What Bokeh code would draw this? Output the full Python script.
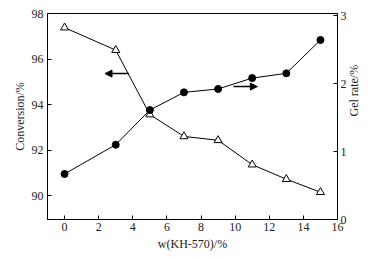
import math
from bokeh.plotting import figure
from bokeh.models import Range1d, LinearAxis, FixedTicker, Arrow, NormalHead
from bokeh.embed import file_html
from bokeh.resources import INLINE

# data
kh570 = [0, 3, 5, 7, 9, 11, 13, 15]
conversion = [97.38, 96.39, 93.56, 92.6, 92.43, 91.36, 90.72, 90.15]
gel_rate = [0.67, 1.10, 1.61, 1.87, 1.92, 2.08, 2.15, 2.64]
x_ticks = [0, 2, 4, 6, 8, 10, 12, 14, 16]
left_ticks = [90, 92, 94, 96, 98]
right_ticks = [0, 1, 2, 3]

FONT = "Liberation Serif"

p = figure(width=375, height=257, output_backend="svg", toolbar_location=None,
           x_range=Range1d(-1, 16), y_range=Range1d(88.95, 98))
p.extra_y_ranges = {"gel": Range1d(0, 3.03)}
p.min_border_left = 47
p.min_border_right = 38
p.min_border_top = 13
p.min_border_bottom = 38
p.grid.visible = False
p.outline_line_color = "black"
p.outline_line_width = 1
p.background_fill_color = "white"
p.border_fill_color = "white"

def style(ax, ticks):
    ax.ticker = FixedTicker(ticks=ticks)
    ax.major_tick_in = 4
    ax.major_tick_out = 0
    ax.minor_tick_line_color = None
    ax.axis_line_color = "black"
    ax.major_tick_line_color = "black"
    ax.major_label_text_font = FONT
    ax.major_label_text_font_size = "12px"
    ax.major_label_text_color = "#222222"
    ax.axis_label_text_font = FONT
    ax.axis_label_text_font_size = "12px"
    ax.axis_label_text_font_style = "normal"
    ax.axis_label_text_color = "#222222"

style(p.xaxis[0], x_ticks)
p.xaxis[0].axis_label = "w(KH-570)/%"
p.xaxis[0].axis_label_standoff = 3
p.xaxis[0].major_label_standoff = 3
style(p.yaxis[0], left_ticks)
p.yaxis[0].axis_label = "Conversion/%"
p.yaxis[0].axis_label_standoff = 2
p.yaxis[0].major_label_standoff = 4

right = LinearAxis(y_range_name="gel")
style(right, right_ticks)
right.axis_label = "Gel rate/%"
right.axis_label_orientation = math.pi / 2
right.axis_label_standoff = 4
right.major_label_standoff = 3
p.add_layout(right, "right")

# conversion (triangles)
p.line(kh570, conversion, line_color="black", line_width=1)
p.scatter(kh570, conversion, marker="triangle", size=8, fill_color="white",
          line_color="black", line_width=1)
# gel rate (circles)
p.line(kh570, gel_rate, line_color="black", line_width=1, y_range_name="gel")
p.scatter(kh570, gel_rate, marker="circle", size=7, fill_color="black",
          line_color="black", y_range_name="gel")

# arrows
p.add_layout(Arrow(end=NormalHead(size=7, fill_color="black", line_color="black"),
                   x_start=3.77, y_start=95.36, x_end=2.37, y_end=95.36,
                   line_color="black", line_width=1.5))
p.add_layout(Arrow(end=NormalHead(size=7, fill_color="black", line_color="black"),
                   x_start=9.9, y_start=94.79, x_end=11.3, y_end=94.79,
                   line_color="black", line_width=1.5))

open("out.html", "w").write(file_html(p, INLINE))
